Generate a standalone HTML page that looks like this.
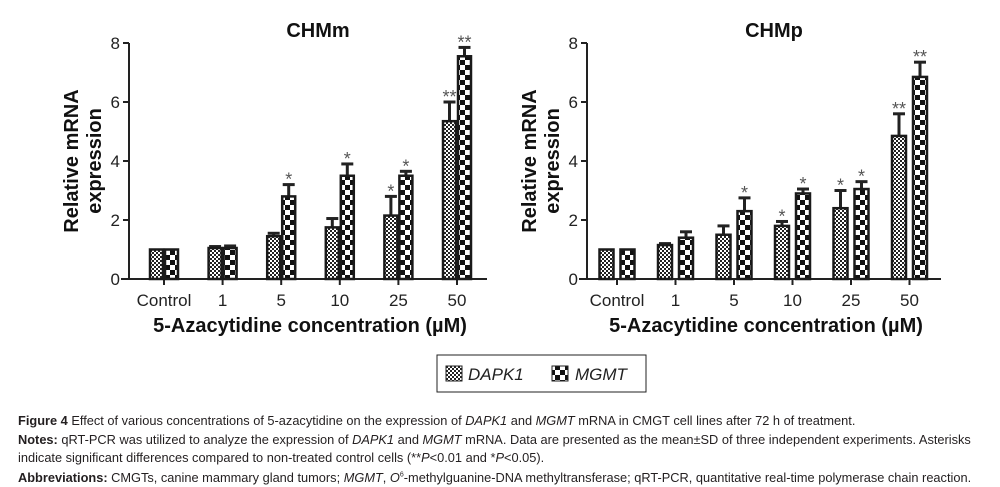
<!DOCTYPE html>
<html><head><meta charset="utf-8">
<style>
body{margin:0;background:#fff;width:1000px;height:487px;overflow:hidden;position:relative;font-family:"Liberation Sans",sans-serif}
.cap{position:absolute;left:18px;font-size:12.8px;color:#231f20;white-space:nowrap;font-family:"Liberation Sans Narrow","Liberation Sans",sans-serif}
.cap b{color:#231f20}
</style></head><body>
<svg id="svg" width="1000" height="487" style="position:absolute;left:0;top:0">
<defs>
<pattern id="pD" width="4" height="4" patternUnits="userSpaceOnUse"><rect width="4" height="4" fill="#fff"/><rect width="2" height="2" fill="#222"/><rect x="2" y="2" width="2" height="2" fill="#222"/></pattern>
<pattern id="pM" width="10" height="10" patternUnits="userSpaceOnUse"><rect width="10" height="10" fill="#fff"/><rect width="5" height="5" fill="#111"/><rect x="5" y="5" width="5" height="5" fill="#111"/></pattern>
</defs>
<g id="g"></g>
<rect x="437" y="355" width="209" height="37" fill="none" stroke="#222"/>
<rect x="446" y="366" width="16" height="15" fill="url(#pD)" stroke="#222"/>
<text x="468" y="380" font-size="17" font-style="italic" fill="#222">DAPK1</text>
<rect x="552" y="366" width="16" height="15" fill="url(#pM)" stroke="#222"/>
<text x="575" y="380" font-size="17" font-style="italic" fill="#222">MGMT</text>
</svg>
<div class="cap" style="top:413px"><b>Figure 4</b> Effect of various concentrations of 5-azacytidine on the expression of <i>DAPK1</i> and <i>MGMT</i> mRNA in CMGT cell lines after 72 h of treatment.</div>
<div class="cap" style="top:432px"><b>Notes:</b> qRT-PCR was utilized to analyze the expression of <i>DAPK1</i> and <i>MGMT</i> mRNA. Data are presented as the mean±SD of three independent experiments. Asterisks</div>
<div class="cap" style="top:450px">indicate significant differences compared to non-treated control cells (**<i>P</i>&lt;0.01 and *<i>P</i>&lt;0.05).</div>
<div class="cap" style="top:470px"><b>Abbreviations:</b> CMGTs, canine mammary gland tumors; <i>MGMT</i>, <i>O</i><sup style="font-size:7px">6</sup>-methylguanine-DNA methyltransferase; qRT-PCR, quantitative real-time polymerase chain reaction.</div>
<script>
const categories=["Control","1","5","10","25","50"];
const yTicks=[0,2,4,6,8];
const mDapk=[1,1.05,1.45,1.75,2.15,5.35];
const mDapkErr=[0,0.05,0.1,0.3,0.65,0.65];
const mDapkSig=["","","","","*","**"];
const mMgmt=[1,1.05,2.8,3.5,3.5,7.55];
const mMgmtErr=[0,0.07,0.4,0.4,0.15,0.3];
const mMgmtSig=["","","*","*","*","**"];
const pDapk=[1,1.15,1.5,1.8,2.4,4.85];
const pDapkErr=[0,0.05,0.3,0.15,0.6,0.75];
const pDapkSig=["","","","*","*","**"];
const pMgmt=[1,1.4,2.3,2.9,3.05,6.85];
const pMgmtErr=[0,0.2,0.45,0.15,0.25,0.5];
const pMgmtSig=["","","*","*","*","**"];
const NS="http://www.w3.org/2000/svg";
const G=document.getElementById('g');
function mk(t,a,txt){const e=document.createElementNS(NS,t);for(const k in a)e.setAttribute(k,a[k]);if(txt!==undefined)e.textContent=txt;G.appendChild(e);return e;}
function chart(id,title,ax,ax2,c0,step,bw,gap,D,DE,DS,M,ME,MS){
  const y0=279,y8=43;
  const Y=v=>y0-(y0-y8)*v/8;
  const X=i=>c0+i*step;
  let e=mk('text',{x:(ax+ax2)/2+10,y:37,'text-anchor':'middle','font-size':20,'font-weight':'bold',fill:'#111'},title);
  
  e=mk('line',{x1:ax,y1:y8,x2:ax,y2:y0,stroke:'#222','stroke-width':2});
  
  e=mk('line',{x1:ax-8,y1:y0,x2:ax2,y2:y0,stroke:'#222','stroke-width':2});
  
  yTicks.forEach(t=>{
    mk('line',{x1:ax-6,y1:Y(t),x2:ax,y2:Y(t),stroke:'#222','stroke-width':2});
    e=mk('text',{x:ax-9,y:Y(t)+6,'text-anchor':'end','font-size':17,fill:'#222'},t);
    
  });
  e=mk('text',{transform:`translate(${ax-51},161) rotate(-90)`,'text-anchor':'middle','font-size':20,'font-weight':'bold',fill:'#111'},'Relative mRNA');
  
  e=mk('text',{transform:`translate(${ax-28},161) rotate(-90)`,'text-anchor':'middle','font-size':20,'font-weight':'bold',fill:'#111'},'expression');
  
  e=mk('text',{x:(ax+ax2)/2+2,y:332,'text-anchor':'middle','font-size':20,'font-weight':'bold',fill:'#111'},'5-Azacytidine concentration (µM)');
  
  categories.forEach((c,i)=>{
    const cx=X(i);
    mk('line',{x1:cx,y1:y0,x2:cx,y2:y0+6,stroke:'#222','stroke-width':2});
    e=mk('text',{x:cx,y:306,'text-anchor':'middle','font-size':17,fill:'#222'},c);
    
    [[D,DE,DS,'url(#pD)',cx-gap/2-bw,'dapk1'],[M,ME,MS,'url(#pM)',cx+gap/2,'mgmt']].forEach(([v,er,sg,f,x,n])=>{
      const top=Y(v[i]),mx=x+bw/2;
      if(er[i]>0){
        mk('line',{x1:mx,y1:top,x2:mx,y2:Y(v[i]+er[i]),stroke:'#222','stroke-width':3});
        mk('line',{x1:mx-6,y1:Y(v[i]+er[i]),x2:mx+6,y2:Y(v[i]+er[i]),stroke:'#222','stroke-width':3});
      }
      e=mk('rect',{x:x+1,y:top,width:bw-2,height:y0-top,fill:f,stroke:'#1a1a1a','stroke-width':2.5});
      
      if(sg[i]){
        e=mk('text',{x:mx,y:Y(v[i]+er[i])+1,'text-anchor':'middle','font-size':18,fill:'#555'},sg[i]);
        
      }
    });
  });
}
chart('chmm','CHMm',129,487,164,58.6,15,0,mDapk,mDapkErr,mDapkSig,mMgmt,mMgmtErr,mMgmtSig);
chart('chmp','CHMp',587,941,617,58.5,16,5,pDapk,pDapkErr,pDapkSig,pMgmt,pMgmtErr,pMgmtSig);
</script>
</body></html>
